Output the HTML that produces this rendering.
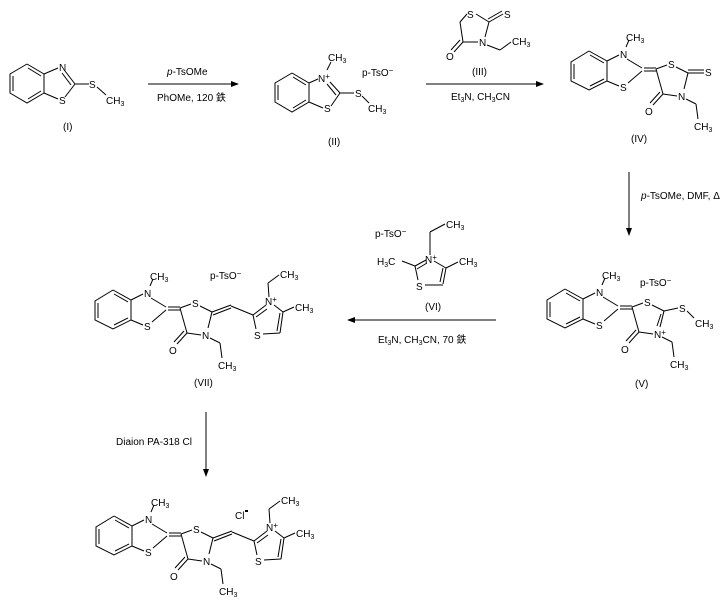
<!DOCTYPE html>
<html><head><meta charset="utf-8"><style>
html,body{margin:0;padding:0;background:#fff;}
svg{display:block;}
text{font-family:"Liberation Sans","Noto Sans CJK SC",sans-serif;font-size:10px;fill:#000;}
line,polyline{stroke:#000;stroke-width:1;fill:none;}
</style></head><body>
<svg width="726" height="609" viewBox="0 0 726 609">
<defs><marker id="ah" markerWidth="8" markerHeight="6" refX="7" refY="3" orient="auto"><path d="M0,0 L8,3 L0,6 Z" fill="#000"/></marker></defs>

<!-- Compound I -->
<g>
<polyline points="27,64 44,74 44,93 27,103 10,93 10,74 27,64"/>
<line x1="13" y1="76" x2="13" y2="91"/><line x1="28" y1="68" x2="41" y2="76"/><line x1="28" y1="99" x2="41" y2="91"/>
<line x1="44" y1="74" x2="58" y2="68"/><line x1="44" y1="93" x2="58" y2="99"/>
<line x1="65" y1="71" x2="75" y2="84"/><line x1="62" y1="73" x2="71" y2="85"/>
<line x1="65" y1="97" x2="75" y2="84"/><line x1="75" y1="84" x2="89" y2="84"/>
<line x1="97" y1="87" x2="106" y2="95"/>
<text x="59" y="71">N</text><text x="59" y="104">S</text><text x="89" y="88">S</text>
<text x="106" y="104">CH<tspan font-size="7" dy="2">3</tspan></text>
<text x="63" y="130">(I)</text>
</g>

<!-- Arrow 1 -->
<line x1="148" y1="84" x2="238" y2="84" marker-end="url(#ah)"/>
<text x="167" y="75"><tspan font-style="italic">p</tspan>-TsOMe</text>
<text x="157" y="101">PhOMe, 120 鉄</text>

<!-- Compound II -->
<g>
<polyline points="292,73 309,83 309,102 292,112 275,102 275,83 292,73"/>
<line x1="278" y1="85" x2="278" y2="100"/><line x1="293" y1="77" x2="306" y2="85"/><line x1="293" y1="108" x2="306" y2="100"/>
<line x1="309" y1="83" x2="318" y2="79"/><line x1="309" y1="102" x2="323" y2="108"/>
<line x1="330" y1="82" x2="340" y2="93"/><line x1="327" y1="84" x2="336" y2="95"/>
<line x1="331" y1="106" x2="340" y2="93"/><line x1="340" y1="93" x2="354" y2="93"/>
<line x1="327" y1="70" x2="331" y2="62"/>
<line x1="362" y1="96" x2="369" y2="103"/>
<text x="318" y="82">N<tspan font-size="8" dy="-3">+</tspan></text>
<text x="324" y="112">S</text><text x="355" y="97">S</text>
<text x="328" y="61">CH<tspan font-size="7" dy="2">3</tspan></text>
<text x="368" y="112">CH<tspan font-size="7" dy="2">3</tspan></text>
<text x="362" y="76">p-TsO<tspan font-size="8" dy="-3">−</tspan></text>
<text x="328" y="145">(II)</text>
</g>

<!-- Compound III -->
<g>
<line x1="467" y1="14" x2="460" y2="22"/><line x1="460" y1="22" x2="463" y2="42"/>
<line x1="476" y1="14" x2="489" y2="22"/><line x1="489" y1="22" x2="503" y2="14"/><line x1="488" y1="19" x2="502" y2="11"/>
<line x1="489" y1="22" x2="485" y2="37"/><line x1="478" y1="42" x2="463" y2="42"/>
<line x1="463" y1="42" x2="454" y2="52"/><line x1="460" y1="40" x2="451" y2="50"/>
<line x1="487" y1="45" x2="500" y2="50"/><line x1="500" y1="50" x2="511" y2="42"/>
<text x="467" y="18">S</text><text x="504" y="18">S</text><text x="479" y="46">N</text><text x="446" y="60">O</text>
<text x="512" y="45">CH<tspan font-size="7" dy="2">3</tspan></text>
<text x="472" y="75">(III)</text>
</g>

<!-- Arrow 2 -->
<line x1="426" y1="84" x2="543" y2="84" marker-end="url(#ah)"/>
<text x="451" y="100">Et<tspan font-size="7" dy="2">3</tspan><tspan dy="-2">N, CH</tspan><tspan font-size="7" dy="2">3</tspan><tspan dy="-2">CN</tspan></text>

<!-- Core template used for IV, V, VII, final -->
<!-- IV -->
<g transform="translate(476,-239)">
<polyline points="113,290 131,300 131,320 113,329 95,320 95,301 113,290"/>
<line x1="98" y1="303" x2="98" y2="318"/><line x1="114" y1="294" x2="128" y2="302"/><line x1="114" y1="325" x2="128" y2="318"/>
<line x1="131" y1="300" x2="143" y2="294"/><line x1="131" y1="320" x2="143" y2="325"/>
<line x1="151" y1="298" x2="166" y2="307"/><line x1="152" y1="322" x2="166" y2="310"/>
<line x1="150" y1="286" x2="153" y2="279"/>
<line x1="168" y1="307" x2="180" y2="307"/><line x1="168" y1="310" x2="180" y2="310"/>
<line x1="180" y1="308" x2="191" y2="304"/><line x1="200" y1="306" x2="212" y2="312"/>
<line x1="212" y1="312" x2="208" y2="328"/><line x1="201" y1="335" x2="187" y2="333"/>
<line x1="187" y1="333" x2="180" y2="308"/>
<line x1="187" y1="333" x2="177" y2="344"/><line x1="184" y1="331" x2="174" y2="342"/>
<line x1="210" y1="338" x2="220" y2="343"/><line x1="220" y1="343" x2="222" y2="358"/>
<text x="144" y="297">N</text><text x="144" y="330">S</text><text x="192" y="307">S</text><text x="202" y="339">N</text><text x="169" y="354">O</text>
<text x="150" y="280">CH<tspan font-size="7" dy="2">3</tspan></text>
<text x="218" y="369">CH<tspan font-size="7" dy="2">3</tspan></text>
<line x1="212" y1="312" x2="228" y2="312"/><line x1="212" y1="309" x2="228" y2="309"/>
<text x="229" y="315">S</text>
<text x="155" y="381">(IV)</text>
</g>

<!-- Arrow 3 -->
<line x1="629" y1="172" x2="629" y2="235" marker-end="url(#ah)"/>
<text x="641" y="199"><tspan font-style="italic">p</tspan>-TsOMe, DMF, Δ</text>

<!-- V -->
<g transform="translate(452,-1)">
<polyline points="113,290 131,300 131,320 113,329 95,320 95,301 113,290"/>
<line x1="98" y1="303" x2="98" y2="318"/><line x1="114" y1="294" x2="128" y2="302"/><line x1="114" y1="325" x2="128" y2="318"/>
<line x1="131" y1="300" x2="143" y2="294"/><line x1="131" y1="320" x2="143" y2="325"/>
<line x1="151" y1="298" x2="166" y2="307"/><line x1="152" y1="322" x2="166" y2="310"/>
<line x1="150" y1="286" x2="153" y2="279"/>
<line x1="168" y1="307" x2="180" y2="307"/><line x1="168" y1="310" x2="180" y2="310"/>
<line x1="180" y1="308" x2="191" y2="304"/><line x1="200" y1="306" x2="212" y2="312"/>
<line x1="212" y1="312" x2="208" y2="328"/><line x1="209" y1="315" x2="205" y2="327"/><line x1="201" y1="335" x2="187" y2="333"/>
<line x1="187" y1="333" x2="180" y2="308"/>
<line x1="187" y1="333" x2="177" y2="344"/><line x1="184" y1="331" x2="174" y2="342"/>
<line x1="210" y1="338" x2="220" y2="343"/><line x1="220" y1="343" x2="222" y2="358"/>
<text x="144" y="297">N</text><text x="144" y="330">S</text><text x="192" y="307">S</text><text x="202" y="339">N<tspan font-size="8" dy="-3">+</tspan></text><text x="169" y="354">O</text>
<text x="150" y="280">CH<tspan font-size="7" dy="2">3</tspan></text>
<text x="218" y="369">CH<tspan font-size="7" dy="2">3</tspan></text>
<line x1="212" y1="312" x2="226" y2="309"/>
<text x="227" y="313">S</text><line x1="235" y1="312" x2="242" y2="319"/>
<text x="243" y="328">CH<tspan font-size="7" dy="2">3</tspan></text>
<text x="188" y="287">p-TsO<tspan font-size="8" dy="-3">−</tspan></text>
<text x="183" y="388">(V)</text>
</g>

<!-- VI -->
<g>
<line x1="430" y1="255" x2="430" y2="232"/><line x1="430" y1="232" x2="445" y2="224"/>
<text x="446" y="228">CH<tspan font-size="7" dy="2">3</tspan></text>
<text x="425" y="263">N<tspan font-size="8" dy="-3">+</tspan></text>
<line x1="415" y1="266" x2="426" y2="260"/><line x1="417" y1="269" x2="427" y2="263"/>
<line x1="434" y1="261" x2="446" y2="268"/>
<line x1="446" y1="268" x2="443" y2="284"/><line x1="443" y1="268" x2="440" y2="282"/>
<line x1="443" y1="285" x2="425" y2="285"/><line x1="418" y1="280" x2="415" y2="266"/>
<text x="416" y="290">S</text>
<line x1="415" y1="266" x2="402" y2="261"/><text x="377" y="265">H<tspan font-size="7" dy="2">3</tspan><tspan dy="-2">C</tspan></text>
<line x1="446" y1="268" x2="458" y2="262"/><text x="459" y="265">CH<tspan font-size="7" dy="2">3</tspan></text>
<text x="375" y="237">p-TsO<tspan font-size="8" dy="-3">−</tspan></text>
<text x="425" y="310">(VI)</text>
</g>

<!-- Arrow 4 -->
<line x1="496" y1="320" x2="348" y2="320" marker-end="url(#ah)"/>
<text x="378" y="343">Et<tspan font-size="7" dy="2">3</tspan><tspan dy="-2">N, CH</tspan><tspan font-size="7" dy="2">3</tspan><tspan dy="-2">CN, 70 鉄</tspan></text>

<!-- VII -->
<g>
<polyline points="113,290 131,300 131,320 113,329 95,320 95,301 113,290"/>
<line x1="98" y1="303" x2="98" y2="318"/><line x1="114" y1="294" x2="128" y2="302"/><line x1="114" y1="325" x2="128" y2="318"/>
<line x1="131" y1="300" x2="143" y2="294"/><line x1="131" y1="320" x2="143" y2="325"/>
<line x1="151" y1="298" x2="166" y2="307"/><line x1="152" y1="322" x2="166" y2="310"/>
<line x1="150" y1="286" x2="153" y2="279"/>
<line x1="168" y1="307" x2="180" y2="307"/><line x1="168" y1="310" x2="180" y2="310"/>
<line x1="180" y1="308" x2="191" y2="304"/><line x1="200" y1="306" x2="212" y2="312"/>
<line x1="212" y1="312" x2="208" y2="328"/><line x1="201" y1="335" x2="187" y2="333"/>
<line x1="187" y1="333" x2="180" y2="308"/>
<line x1="187" y1="333" x2="177" y2="344"/><line x1="184" y1="331" x2="174" y2="342"/>
<line x1="210" y1="338" x2="220" y2="343"/><line x1="220" y1="343" x2="222" y2="358"/>
<text x="144" y="297">N</text><text x="144" y="330">S</text><text x="192" y="307">S</text><text x="202" y="339">N</text><text x="169" y="354">O</text>
<text x="150" y="280">CH<tspan font-size="7" dy="2">3</tspan></text>
<text x="218" y="369">CH<tspan font-size="7" dy="2">3</tspan></text>
<line x1="212" y1="312" x2="231" y2="305"/><line x1="213" y1="315" x2="231" y2="308"/>
<line x1="231" y1="306" x2="253" y2="315"/>
<line x1="253" y1="315" x2="266" y2="305"/><line x1="256" y1="317" x2="267" y2="309"/>
<line x1="274" y1="305" x2="283" y2="312"/>
<line x1="283" y1="312" x2="280" y2="333"/><line x1="280" y1="313" x2="277" y2="331"/>
<line x1="280" y1="333" x2="263" y2="334"/><line x1="256" y1="329" x2="253" y2="315"/>
<line x1="283" y1="312" x2="294" y2="307"/>
<line x1="269" y1="297" x2="268" y2="283"/><line x1="268" y1="283" x2="279" y2="275"/>
<text x="265" y="305">N<tspan font-size="8" dy="-3">+</tspan></text><text x="254" y="339">S</text>
<text x="295" y="311">CH<tspan font-size="7" dy="2">3</tspan></text>
<text x="280" y="278">CH<tspan font-size="7" dy="2">3</tspan></text>
<text x="210" y="279">p-TsO<tspan font-size="8" dy="-3">−</tspan></text>
<text x="194" y="386">(VII)</text>
</g>

<!-- Arrow 5 -->
<line x1="206" y1="412" x2="206" y2="476" marker-end="url(#ah)"/>
<text x="116" y="445">Diaion PA-318 Cl</text>

<!-- Final -->
<g transform="translate(1,226)">
<polyline points="113,290 131,300 131,320 113,329 95,320 95,301 113,290"/>
<line x1="98" y1="303" x2="98" y2="318"/><line x1="114" y1="294" x2="128" y2="302"/><line x1="114" y1="325" x2="128" y2="318"/>
<line x1="131" y1="300" x2="143" y2="294"/><line x1="131" y1="320" x2="143" y2="325"/>
<line x1="151" y1="298" x2="166" y2="307"/><line x1="152" y1="322" x2="166" y2="310"/>
<line x1="150" y1="286" x2="153" y2="279"/>
<line x1="168" y1="307" x2="180" y2="307"/><line x1="168" y1="310" x2="180" y2="310"/>
<line x1="180" y1="308" x2="191" y2="304"/><line x1="200" y1="306" x2="212" y2="312"/>
<line x1="212" y1="312" x2="208" y2="328"/><line x1="201" y1="335" x2="187" y2="333"/>
<line x1="187" y1="333" x2="180" y2="308"/>
<line x1="187" y1="333" x2="177" y2="344"/><line x1="184" y1="331" x2="174" y2="342"/>
<line x1="210" y1="338" x2="220" y2="343"/><line x1="220" y1="343" x2="222" y2="358"/>
<text x="144" y="297">N</text><text x="144" y="330">S</text><text x="192" y="307">S</text><text x="202" y="339">N</text><text x="169" y="354">O</text>
<text x="150" y="280">CH<tspan font-size="7" dy="2">3</tspan></text>
<text x="218" y="369">CH<tspan font-size="7" dy="2">3</tspan></text>
<line x1="212" y1="312" x2="231" y2="305"/><line x1="213" y1="315" x2="231" y2="308"/>
<line x1="231" y1="306" x2="253" y2="315"/>
<line x1="253" y1="315" x2="266" y2="305"/><line x1="256" y1="317" x2="267" y2="309"/>
<line x1="274" y1="305" x2="283" y2="312"/>
<line x1="283" y1="312" x2="280" y2="333"/><line x1="280" y1="313" x2="277" y2="331"/>
<line x1="280" y1="333" x2="263" y2="334"/><line x1="256" y1="329" x2="253" y2="315"/>
<line x1="283" y1="312" x2="294" y2="307"/>
<line x1="269" y1="297" x2="268" y2="283"/><line x1="268" y1="283" x2="279" y2="275"/>
<text x="265" y="305">N<tspan font-size="8" dy="-3">+</tspan></text><text x="254" y="339">S</text>
<text x="295" y="311">CH<tspan font-size="7" dy="2">3</tspan></text>
<text x="280" y="278">CH<tspan font-size="7" dy="2">3</tspan></text>
<text x="234" y="293">Cl</text><rect x="244" y="284" width="3" height="2" fill="#000"/>
</g>
</svg>
</body></html>
